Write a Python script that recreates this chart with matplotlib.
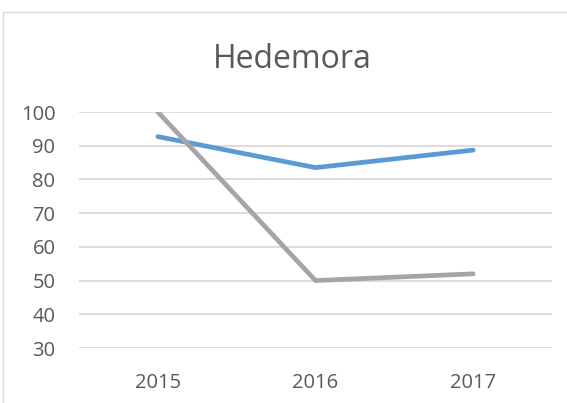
import matplotlib.pyplot as plt
from matplotlib.patches import Rectangle

# Data
years = ['2015', '2016', '2017']
blue_values = [92.7, 83.5, 88.7]
gray_values = [100, 50, 52]
y_ticks = [30, 40, 50, 60, 70, 80, 90, 100]

plt.rcParams['font.family'] = ['Open Sans', 'DejaVu Sans']

W, H = 567, 403
fig = plt.figure(figsize=(W / 100, H / 100), dpi=100)

# chart area border (Excel style), right/bottom edges run off the image
fig.patches.append(Rectangle((3 / W, -0.1), 1.2, 1 - 12 / H + 0.1,
                             transform=fig.transFigure, fill=False,
                             edgecolor='#d9d9d9', linewidth=1.0))

ax = fig.add_axes([79 / W, 1 - 348 / H, (552 - 79) / W, (348 - 112) / H])

x = list(range(len(years)))
ax.plot(x, blue_values, color='#5B9BD5', linewidth=3.4, solid_capstyle='round',
        solid_joinstyle='round', zorder=3)
ax.plot(x, gray_values, color='#A5A5A5', linewidth=3.4, solid_capstyle='round',
        solid_joinstyle='round', zorder=3)

ax.set_xlim(-0.5, len(years) - 0.5)
ax.set_ylim(30, 100)
ax.set_yticks(y_ticks)
ax.set_xticks(x)
ax.set_xticklabels(years)

ax.grid(axis='y', color='#d9d9d9', linewidth=1.3)
ax.set_axisbelow(True)
for s in ax.spines.values():
    s.set_visible(False)
ax.tick_params(length=0, labelsize=14.5, labelcolor='#595959')
ax.tick_params(axis='y', pad=17)
ax.tick_params(axis='x', pad=18)

fig.text(292 / W, 1 - 68 / H, 'Hedemora', ha='center', va='baseline',
         fontsize=23, color='#595959')

fig.savefig('out.png', dpi=100)
